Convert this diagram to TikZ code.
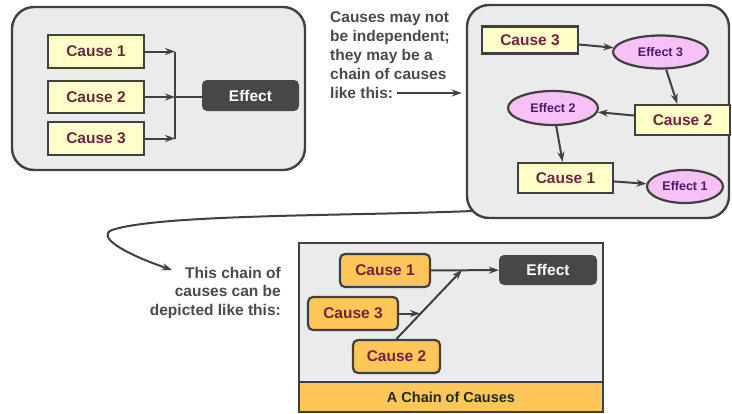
\documentclass[tikz,border=0pt]{standalone}
\usepackage{fontspec}
\setmainfont{Liberation Sans}
\usetikzlibrary{arrows.meta,shapes.geometric}
\definecolor{panelgray}{HTML}{EBEBEB}
\definecolor{edgedark}{HTML}{404040}
\definecolor{boxyellow}{HTML}{FFFFC8}
\definecolor{causetxt}{HTML}{6B2640}
\definecolor{ellfill}{HTML}{F7C0F7}
\definecolor{elltxt}{HTML}{4B1A6A}
\definecolor{orangebox}{HTML}{FFC65A}
\definecolor{effdark}{HTML}{474747}
\definecolor{notetxt}{HTML}{4A4A4A}
\tikzset{
  panel/.style={draw=edgedark, line width=2.4pt, fill=panelgray, rounded corners=22pt, inner sep=0pt},
  ybox/.style={draw=edgedark, line width=2.4pt, fill=boxyellow, text=causetxt, inner sep=0pt,
     font=\bfseries\fontsize{15.5}{18}\selectfont},
  ell/.style={ellipse, draw=edgedark, line width=2.2pt, fill=ellfill, text=elltxt, inner sep=0pt,
     font=\bfseries\fontsize{12.5}{15}\selectfont},
  obox/.style={draw=edgedark, line width=2.2pt, fill=orangebox, text=causetxt, rounded corners=5pt, inner sep=0pt,
     font=\bfseries\fontsize{15.5}{18}\selectfont},
  effbox/.style={fill=effdark, text=white, rounded corners=5pt, inner sep=0pt,
     font=\bfseries\fontsize{15.5}{18}\selectfont},
  note/.style={text=notetxt, inner sep=0pt, font=\bfseries\fontsize{15.5}{19}\selectfont},
  arr/.style={draw=edgedark, line width=2pt, -{Stealth[length=10pt,width=7pt]}},
  ln/.style={draw=edgedark, line width=2pt},
}
\begin{document}
\begin{tikzpicture}[x=1pt,y=-1pt]
\useasboundingbox (0,0) rectangle (732,413);

% ---------- left panel ----------
\node[panel, minimum width=293pt, minimum height=163pt] (lp) at (158.5,88.5) {};
\node[ybox, minimum width=96pt, minimum height=33pt] (c1) at (96,51.5) {Cause 1};
\node[ybox, minimum width=96pt, minimum height=32pt] (c2) at (96,97) {Cause 2};
\node[ybox, minimum width=96pt, minimum height=33pt] (c3) at (96,138.5) {Cause 3};
\node[effbox, minimum width=97pt, minimum height=31pt] (eff) at (250.5,95.5) {Effect};
\coordinate (j1) at (175,51.5);
\coordinate (j2) at (175,97);
\coordinate (j3) at (175,138.5);
\draw[arr] (c1.east) -- (j1);
\draw[arr] (c2.east) -- (j2);
\draw[arr] (c3.east) -- (j3);
\draw[ln] (j1) -- (j3);
\draw[ln] (j2) -- (j2 -| eff.west);

% ---------- note 1 ----------
\node[note, anchor=west, align=left] (n1) at (330,55)
  {Causes may not\\be independent;\\they may be a\\chain of causes\\like this:};
\coordinate (n1a) at (397,93);

% ---------- right panel ----------
\node[panel, minimum width=262pt, minimum height=213pt] (rp) at (598,111.5) {};
\draw[arr, shorten >=4pt] (n1a) -- (n1a -| rp.west);
\node[ybox, minimum width=96pt, minimum height=27pt] (r3) at (530,40) {Cause 3};
\node[ybox, minimum width=95pt, minimum height=30pt] (r2) at (682.5,120) {Cause 2};
\node[ybox, minimum width=95pt, minimum height=30pt] (r1) at (565.5,178) {Cause 1};
\node[ell, minimum width=95pt, minimum height=33pt] (e3) at (660.5,52) {Effect 3};
\node[ell, minimum width=90pt, minimum height=34pt] (e2) at (553,108) {Effect 2};
\node[ell, minimum width=76pt, minimum height=33pt] (e1) at (685,186.5) {Effect 1};
\draw[arr] (r3) -- (e3);
\draw[arr] (e3) -- (r2);
\draw[arr] (r2) -- (e2);
\draw[arr] (e2) -- (r1);
\draw[arr] (r1) -- (e1);

% ---------- curved connector ----------
\coordinate (cs) at (473,211);
\node[note, anchor=east, align=right, font=\bfseries\fontsize{15.5}{18.5}\selectfont] (n2) at (281,292.5)
  {This chain of\\causes can be\\depicted like this:};
\coordinate (ce) at (172,270);
\draw[arr] (cs) .. controls (350,216) and (160,214) .. (112,230)
           .. controls (97,236) and (120,252) .. (ce);

% ---------- bottom panel ----------
\node[draw=edgedark, line width=2.4pt, fill=panelgray, minimum width=304pt, minimum height=169pt, inner sep=0pt] (bp) at (451,327.5) {};
\node[draw=edgedark, line width=2.4pt, fill=orangebox, minimum width=304pt, minimum height=30pt, inner sep=0pt,
      text=black!85, font=\bfseries\fontsize{14.5}{17}\selectfont] (bar) at (451,397) {A Chain of Causes};
\node[obox, minimum width=90pt, minimum height=33pt] (b1) at (385,270.5) {Cause 1};
\node[obox, minimum width=90pt, minimum height=33pt] (b3) at (353,313.5) {Cause 3};
\node[obox, minimum width=87pt, minimum height=33pt] (b2) at (396.5,356.5) {Cause 2};
\node[effbox, minimum width=98pt, minimum height=30pt] (be) at (548,270) {Effect};
\coordinate (dtip) at (462,270);
\coordinate (m3) at (420,313.5);
\draw[arr] (b1) -- (be);
\draw[arr] (b2.north) -- (dtip);
\draw[arr] (b3.east) -- (m3);
\end{tikzpicture}
\end{document}
